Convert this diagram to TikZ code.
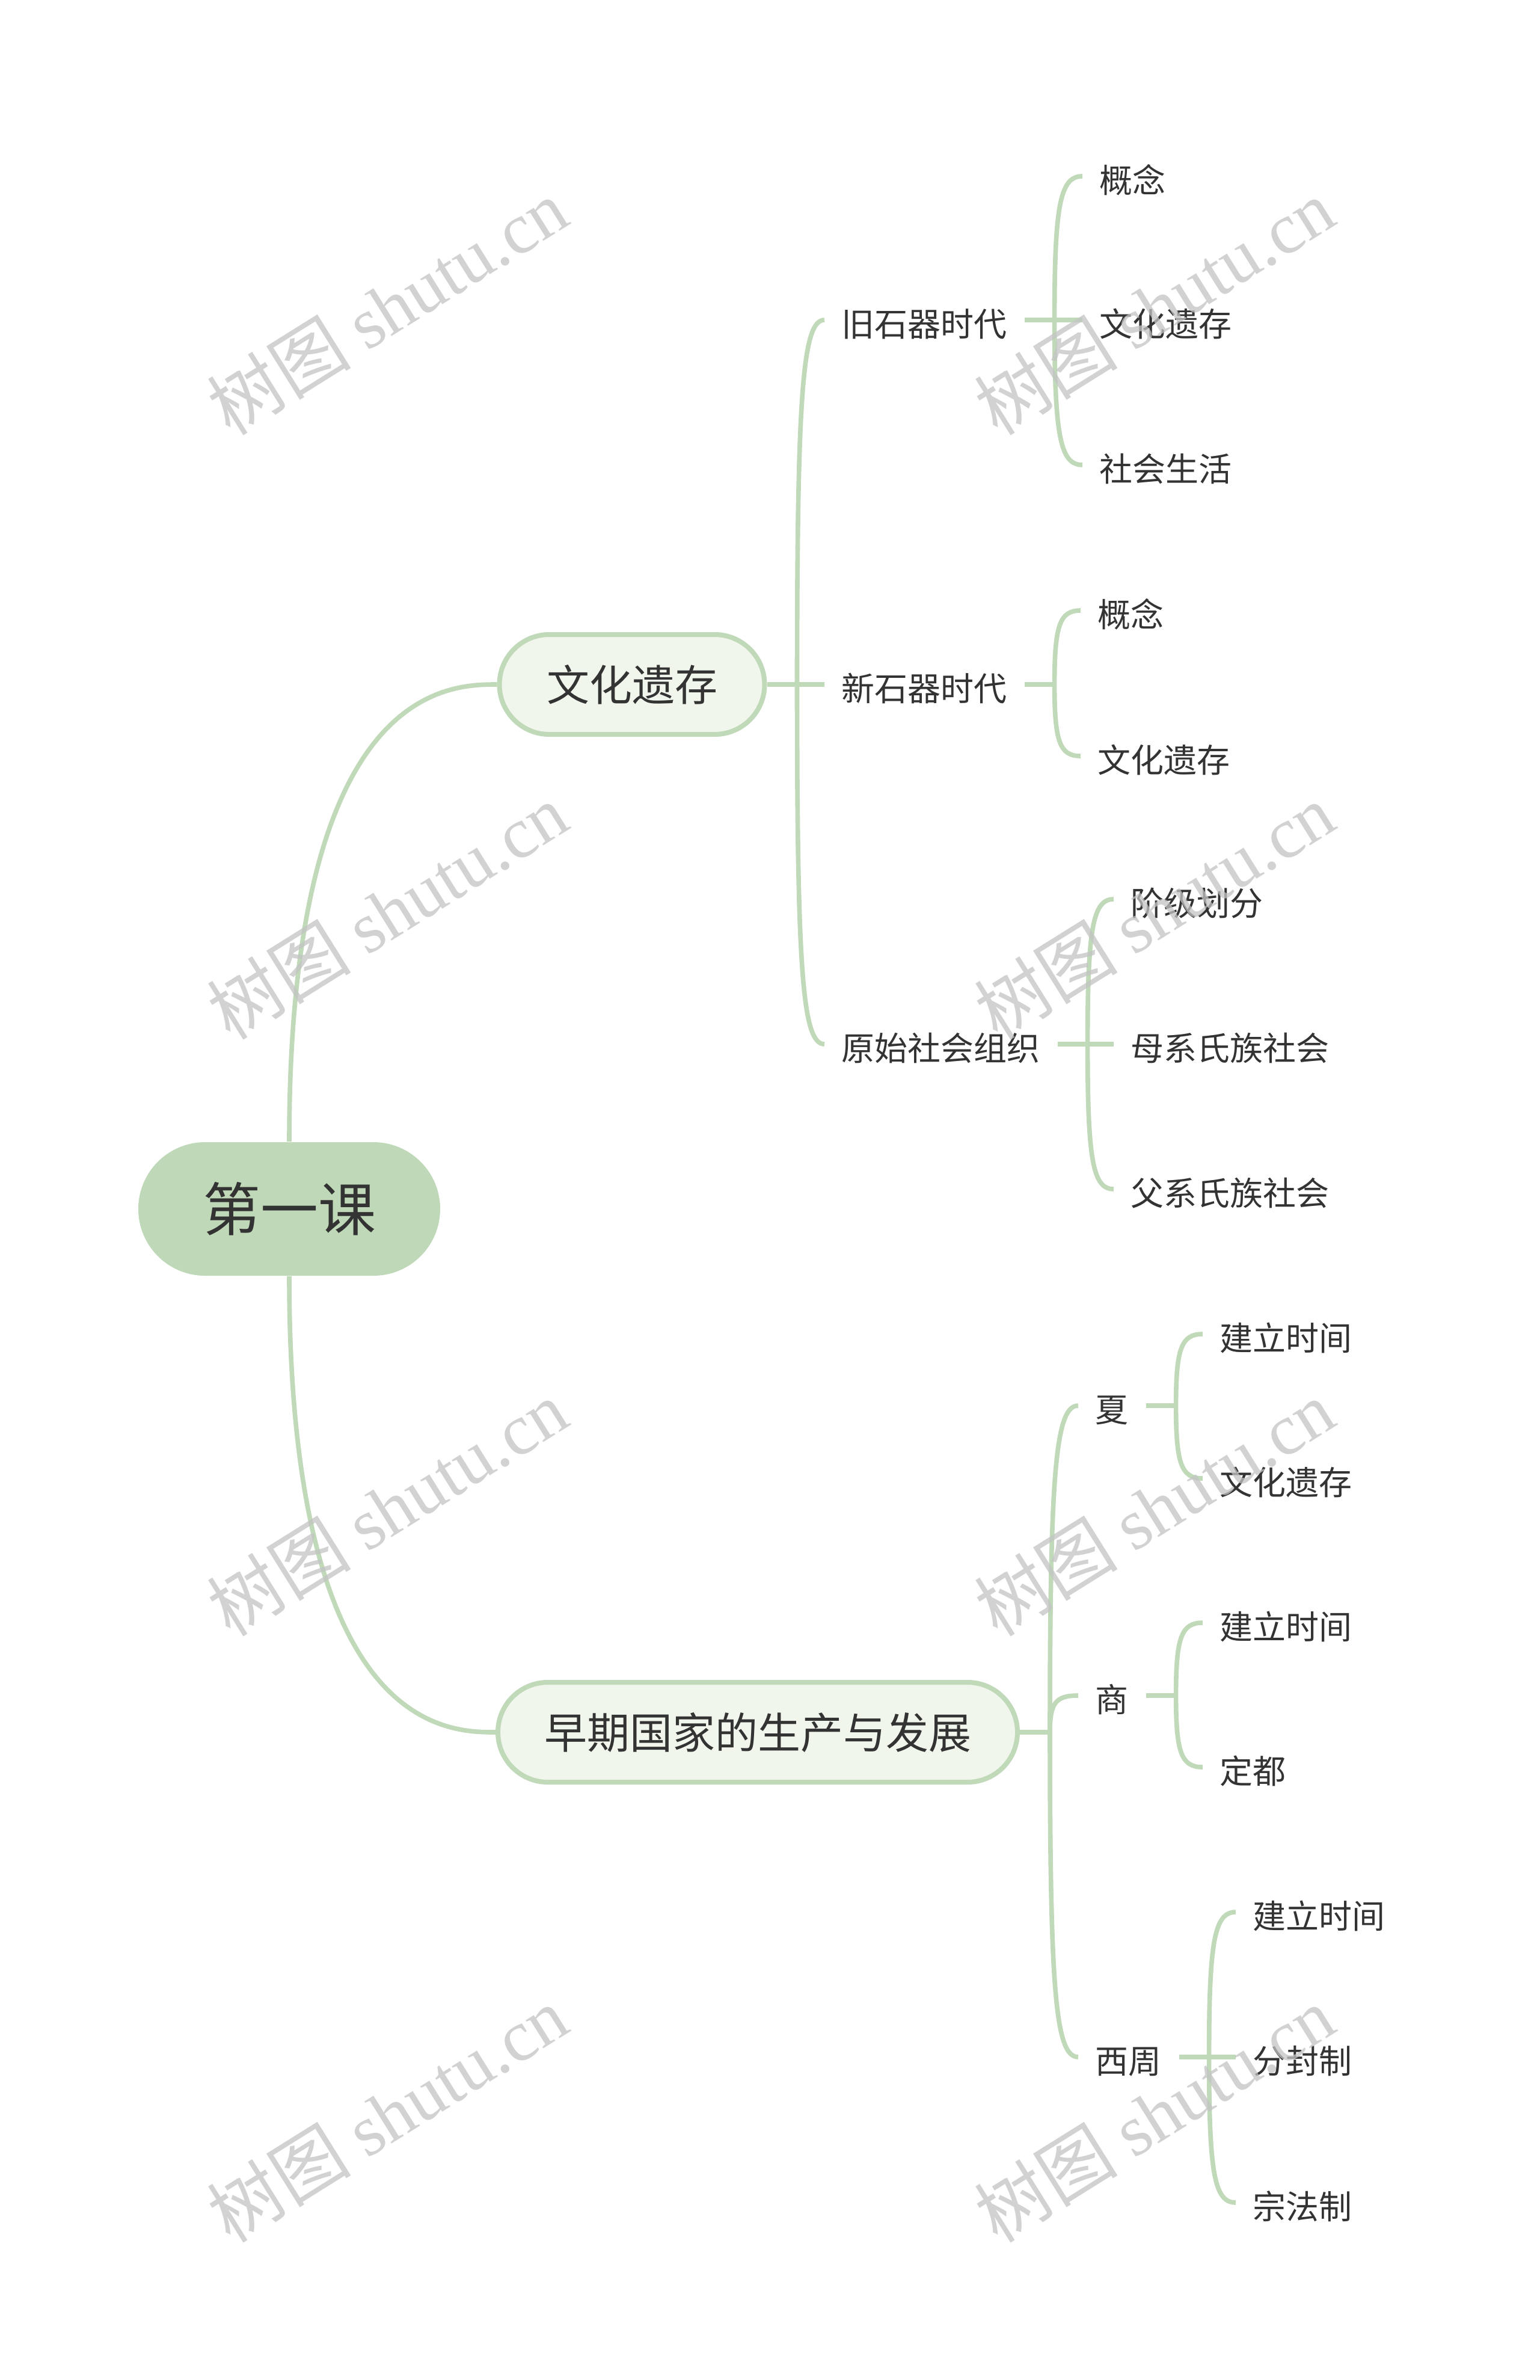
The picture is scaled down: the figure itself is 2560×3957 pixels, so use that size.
\documentclass[tikz,border=0pt]{standalone}
\usepackage{fontspec}
\setmainfont{Noto Sans CJK SC}
\newfontfamily\wmlatin{Liberation Serif}
\usetikzlibrary{calc}
\definecolor{lc}{HTML}{C0D9B8}
\definecolor{rootc}{HTML}{BFD8B7}
\definecolor{mainc}{HTML}{F0F6EB}
\definecolor{txt}{HTML}{333333}
\definecolor{wm}{HTML}{C4C4C4}
\newcommand\mmbranch[2]{%
  \draw[conn] (#1) .. controls ($(#1)!0.8!(#1 |- #2.west)$) and ($(#1 |- #2.west)!0.2!(#2.west)$) .. (#2.west);}
\begin{document}
\begin{tikzpicture}[x=0.25pt,y=-0.25pt,
  conn/.style={draw=lc, line width=1.9pt, line cap=butt},
  rootbox/.style={fill=rootc, draw=none, rounded corners=27.75pt, minimum width=125.5pt, minimum height=55.5pt, inner sep=0pt, text=txt, font=\fontsize{24pt}{28pt}\selectfont},
  mainbox/.style={fill=mainc, draw=lc, line width=2pt, rounded corners=20.75pt, minimum height=41.5pt, inner sep=0pt, text=txt, font=\fontsize{17.75pt}{21pt}\selectfont},
  leaf/.style={text=txt, font=\fontsize{13.75pt}{16pt}\selectfont, inner xsep=7pt, inner ysep=0pt, text height=15.1pt, text depth=1.4pt, anchor=west},
  wmark/.style={rotate=32, text=wm, opacity=0.75, inner sep=0pt, font=\fontsize{30pt}{30pt}\selectfont}
]
\fill[white] (0,0) rectangle (2560,3957);
\useasboundingbox (0,0) rectangle (2560,3957);

% main nodes
\node[rootbox] (root) at (481,2010) {第一课};
\node[mainbox, minimum width=110.25pt] (wh) at (1051,1138) {文化遗存};
\node[mainbox, minimum width=216pt] (gj) at (1260,2880) {早期国家的生产与发展};

% level 2
\node[leaf] (jsq) at (1371,532) {旧石器时代};
\node[leaf] (xsq) at (1371,1138) {新石器时代};
\node[leaf] (ys) at (1371,1736) {原始社会组织};
\node[leaf] (xia) at (1793,2337) {夏};
\node[leaf] (shang) at (1793,2819) {商};
\node[leaf] (xz) at (1793,3420) {西周};

% level 3
\node[leaf] (a1) at (1800,293) {概念};
\node[leaf] (a2) at (1800,532) {文化遗存};
\node[leaf] (a3) at (1800,773) {社会生活};
\node[leaf] (b1) at (1797,1015) {概念};
\node[leaf] (b2) at (1797,1257) {文化遗存};
\node[leaf] (c1) at (1852,1495) {阶级划分};
\node[leaf] (c2) at (1852,1736) {母系氏族社会};
\node[leaf] (c3) at (1852,1977) {父系氏族社会};
\node[leaf] (d1) at (2000,2218) {建立时间};
\node[leaf] (d2) at (2000,2458) {文化遗存};
\node[leaf] (e1) at (2000,2698) {建立时间};
\node[leaf] (e2) at (2000,2938) {定都};
\node[leaf] (f1) at (2055,3179) {建立时间};
\node[leaf] (f2) at (2055,3420) {分封制};
\node[leaf] (f3) at (2055,3662) {宗法制};

% root connectors
\draw[conn] (root.north) .. controls (root.north |- wh.west) and ($(root.north |- wh.west)!0.77!(wh.west)$) .. (wh.west);
\draw[conn] (root.south) .. controls (root.south |- gj.west) and ($(root.south |- gj.west)!0.77!(gj.west)$) .. (gj.west);

% junctions
\draw[conn] (wh.east) -- ++(50,0) coordinate (jwh);
\draw[conn] (gj.east) -- ++(50,0) coordinate (jgj);
\draw[conn] (jsq.east) -- ++(50,0) coordinate (jjsq);
\draw[conn] (xsq.east) -- ++(50,0) coordinate (jxsq);
\draw[conn] (ys.east) -- ++(50,0) coordinate (jys);
\draw[conn] (xia.east) -- ++(50,0) coordinate (jxia);
\draw[conn] (shang.east) -- ++(50,0) coordinate (jshang);
\draw[conn] (xz.east) -- ++(50,0) coordinate (jxz);

\mmbranch{jwh}{jsq}\mmbranch{jwh}{xsq}\mmbranch{jwh}{ys}
\mmbranch{jgj}{xia}\mmbranch{jgj}{shang}\mmbranch{jgj}{xz}
\mmbranch{jjsq}{a1}\mmbranch{jjsq}{a2}\mmbranch{jjsq}{a3}
\mmbranch{jxsq}{b1}\mmbranch{jxsq}{b2}
\mmbranch{jys}{c1}\mmbranch{jys}{c2}\mmbranch{jys}{c3}
\mmbranch{jxia}{d1}\mmbranch{jxia}{d2}
\mmbranch{jshang}{e1}\mmbranch{jshang}{e2}
\mmbranch{jxz}{f1}\mmbranch{jxz}{f2}\mmbranch{jxz}{f3}

% watermarks
\node[wmark] (w1) at (644,510) {树图 {\wmlatin shutu.cn}};
\node[wmark] (w2) at (644,1515) {树图 {\wmlatin shutu.cn}};
\node[wmark] (w3) at (644,2507) {树图 {\wmlatin shutu.cn}};
\node[wmark] (w4) at (644,3515) {树图 {\wmlatin shutu.cn}};
\node[wmark] (w5) at (1919,510) {树图 {\wmlatin shutu.cn}};
\node[wmark] (w6) at (1919,1515) {树图 {\wmlatin shutu.cn}};
\node[wmark] (w7) at (1919,2507) {树图 {\wmlatin shutu.cn}};
\node[wmark] (w8) at (1919,3515) {树图 {\wmlatin shutu.cn}};
\end{tikzpicture}
\end{document}
